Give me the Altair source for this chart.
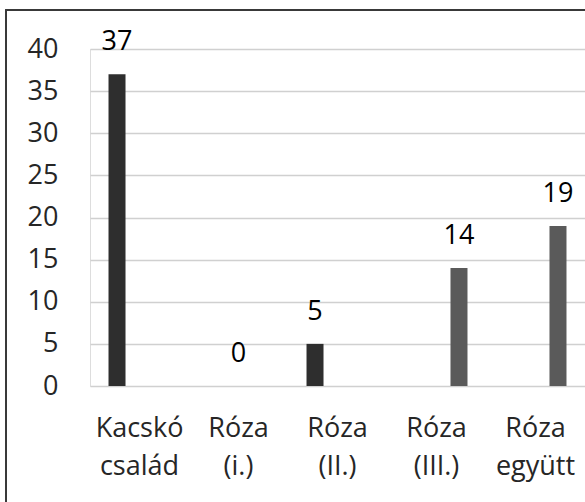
import altair as alt
import pandas as pd

categories = ["Kacskó\ncsalád", "Róza\n(i.)", "Róza\n(II.)", "Róza\n(III.)", "Róza\negyütt"]
series = ["s1", "s2", "s1", "s3", "s3"]
values = [37, 0, 5, 14, 19]
cat_order = categories
series_order = ["s1", "s2", "s3"]
series_colors = ["#2e2e2e", "#404040", "#5a5a5a"]

df = pd.DataFrame({"cat": categories, "series": series, "value": values})

FONT = "Open Sans"
FS = 27

x_enc = alt.X("cat:N", sort=cat_order,
              scale=alt.Scale(domain=cat_order, paddingInner=0.374, paddingOuter=0.187),
              axis=alt.Axis(title=None, labelAngle=0, labelFontSize=FS, labelFont=FONT,
                            labelColor="#262626", labelLineHeight=38, labelPadding=29,
                            ticks=False, domain=False,
                            labelExpr="split(datum.label, '\\n')"))
xo_enc = alt.XOffset("series:N", sort=series_order,
                     scale=alt.Scale(domain=series_order, paddingInner=0.244))
y_enc = alt.Y("value:Q", scale=alt.Scale(domain=[0, 40], nice=False),
              axis=alt.Axis(title=None, values=[0, 5, 10, 15, 20, 25, 30, 35, 40],
                            labelFontSize=FS, labelFont=FONT, labelColor="#262626",
                            labelPadding=32, ticks=False, domain=False,
                            gridColor="#d0d0d0", gridWidth=1.5))

bars = alt.Chart(df).mark_bar().encode(
    x=x_enc, xOffset=xo_enc, y=y_enc,
    color=alt.Color("series:N", scale=alt.Scale(domain=series_order, range=series_colors), legend=None),
)

labels = alt.Chart(df).mark_text(fontSize=FS, font=FONT, color="#000000",
                                  baseline="alphabetic", dy=-24).encode(
    x=alt.X("cat:N", sort=cat_order), xOffset=alt.XOffset("series:N", sort=series_order),
    y="value:Q", text="value:Q")

border = alt.Chart(df).mark_rect(fill=None, stroke="#3a3a3a", strokeWidth=1.3).encode(
    x=alt.value(-84), x2=alt.value(520), y=alt.value(-39), y2=alt.value(480))

chart = alt.layer(bars, labels, border).properties(
    width=495, height=337,
    padding={"left": 90, "top": 49, "right": 0, "bottom": 116},
    autosize=alt.AutoSizeParams(type="none"),
).configure_view(stroke=None).configure(background="white")

chart.save("out.html", embed_options={"renderer": "svg", "actions": False})
